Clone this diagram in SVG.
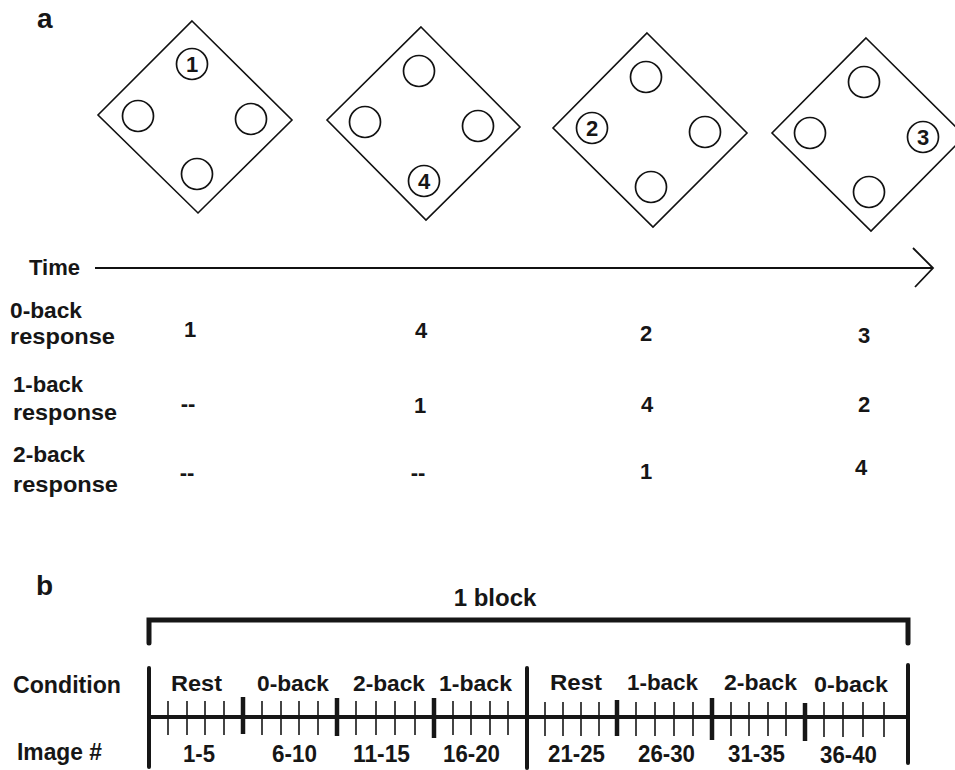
<svg xmlns="http://www.w3.org/2000/svg" width="955" height="770" viewBox="0 0 955 770">
<style>
text{font-family:"Liberation Sans",Arial,sans-serif;font-weight:bold;fill:#161616}
.lbl{font-size:22px}
.val{font-size:22px;text-anchor:middle}
.num{font-size:22px;text-anchor:middle}
.dia{fill:none;stroke:#111;stroke-width:1.6}
.cir{fill:none;stroke:#111;stroke-width:1.7}
.axis{fill:none;stroke:#111;stroke-width:1.8}
.thick{stroke:#161616;stroke-width:5;fill:none;stroke-linecap:round}
.bar{stroke:#161616;stroke-width:4;stroke-linecap:round}
.sep{stroke:#161616;stroke-width:4.5}
.tick{stroke:#161616;stroke-width:1.6}
.cond{font-size:22px}
.img{font-size:23px}
</style>
<text x="37" y="28" font-size="28">a</text>

<g id="frame1">
<polygon class="dia" points="192,21 292,120 198,213 98,115"/>
<circle class="cir" cx="192" cy="64" r="15.5"/><text class="num" x="192" y="72">1</text>
<circle class="cir" cx="138" cy="116" r="15.5"/>
<circle class="cir" cx="251" cy="119" r="15.5"/>
<circle class="cir" cx="197" cy="174" r="15.5"/>
</g>
<g id="frame2">
<polygon class="dia" points="421,27 520,127 426,220 327,120"/>
<circle class="cir" cx="419" cy="71" r="15.5"/>
<circle class="cir" cx="365" cy="122" r="15.5"/>
<circle class="cir" cx="478" cy="126" r="15.5"/>
<circle class="cir" cx="424" cy="181" r="15.5"/><text class="num" x="424" y="189">4</text>
</g>
<g id="frame3">
<polygon class="dia" points="647,33 747,133 653,227 553,128"/>
<circle class="cir" cx="646" cy="77" r="15.5"/>
<circle class="cir" cx="592" cy="128" r="15.5"/><text class="num" x="592" y="136">2</text>
<circle class="cir" cx="705" cy="132" r="15.5"/>
<circle class="cir" cx="651" cy="187" r="15.5"/>
</g>
<g id="frame4">
<polygon class="dia" points="866,38 965,136 871,231 772,133"/>
<circle class="cir" cx="864" cy="82" r="15.5"/>
<circle class="cir" cx="810" cy="133" r="15.5"/>
<circle class="cir" cx="923" cy="137" r="15.5"/><text class="num" x="923" y="145">3</text>
<circle class="cir" cx="869" cy="192" r="15.5"/>
</g>

<g id="time-axis">
<text class="lbl" x="29" y="275" textLength="51" lengthAdjust="spacingAndGlyphs">Time</text>
<line class="axis" x1="95" y1="268" x2="933" y2="268"/>
<polyline class="axis" points="913,248 933,268 915,287"/>
</g>

<g id="responses">
<text class="lbl" x="10" y="318" textLength="72" lengthAdjust="spacingAndGlyphs">0-back</text>
<text class="lbl" x="10" y="344" textLength="105" lengthAdjust="spacingAndGlyphs">response</text>
<text class="lbl" x="13" y="392" textLength="70" lengthAdjust="spacingAndGlyphs">1-back</text>
<text class="lbl" x="13" y="420" textLength="104" lengthAdjust="spacingAndGlyphs">response</text>
<text class="lbl" x="13" y="462" textLength="72" lengthAdjust="spacingAndGlyphs">2-back</text>
<text class="lbl" x="13" y="492" textLength="105" lengthAdjust="spacingAndGlyphs">response</text>

<text class="val" x="190" y="337">1</text>
<text class="val" x="421" y="338">4</text>
<text class="val" x="646" y="341">2</text>
<text class="val" x="864" y="343">3</text>

<text class="val" x="188" y="411">--</text>
<text class="val" x="420" y="413">1</text>
<text class="val" x="647" y="412">4</text>
<text class="val" x="864" y="412">2</text>

<text class="val" x="187" y="480">--</text>
<text class="val" x="418" y="480">--</text>
<text class="val" x="646" y="479">1</text>
<text class="val" x="861" y="475">4</text>
</g>

<text x="36" y="595" font-size="28">b</text>

<g id="block">
<text x="495" y="606" font-size="24" text-anchor="middle">1 block</text>
<polyline class="thick" points="149,643 149,620 908,620 908,643"/>
</g>

<g id="timeline">
<line stroke="#161616" stroke-width="4" x1="149" y1="717" x2="908" y2="717"/>
<line class="bar" x1="149" y1="668" x2="149" y2="767"/>
<line class="bar" x1="527" y1="668" x2="527" y2="768"/>
<line class="bar" x1="908" y1="665" x2="908" y2="763"/>
<line class="sep" x1="243" y1="697" x2="243" y2="734"/>
<line class="sep" x1="337" y1="698" x2="337" y2="736"/>
<line class="sep" x1="434" y1="698" x2="434" y2="738"/>
<line class="sep" x1="617" y1="700" x2="617" y2="736"/>
<line class="sep" x1="712" y1="698" x2="712" y2="740"/>
<line class="sep" x1="805" y1="703" x2="805" y2="741"/>
<g class="tick">
<line x1="168" y1="701" x2="168" y2="735"/><line x1="187" y1="701" x2="187" y2="735"/><line x1="205" y1="701" x2="205" y2="735"/><line x1="224" y1="701" x2="224" y2="735"/>
<line x1="262" y1="701" x2="262" y2="735"/><line x1="281" y1="701" x2="281" y2="735"/><line x1="299" y1="701" x2="299" y2="735"/><line x1="318" y1="701" x2="318" y2="735"/>
<line x1="356" y1="701" x2="356" y2="735"/><line x1="376" y1="701" x2="376" y2="735"/><line x1="395" y1="701" x2="395" y2="735"/><line x1="415" y1="701" x2="415" y2="735"/>
<line x1="453" y1="701" x2="453" y2="735"/><line x1="471" y1="701" x2="471" y2="735"/><line x1="490" y1="701" x2="490" y2="735"/><line x1="508" y1="701" x2="508" y2="735"/>
<line x1="545" y1="702" x2="545" y2="736"/><line x1="563" y1="702" x2="563" y2="736"/><line x1="581" y1="702" x2="581" y2="736"/><line x1="599" y1="702" x2="599" y2="736"/>
<line x1="636" y1="702" x2="636" y2="736"/><line x1="655" y1="702" x2="655" y2="736"/><line x1="674" y1="702" x2="674" y2="736"/><line x1="693" y1="702" x2="693" y2="736"/>
<line x1="731" y1="702" x2="731" y2="736"/><line x1="749" y1="702" x2="749" y2="736"/><line x1="768" y1="702" x2="768" y2="736"/><line x1="786" y1="702" x2="786" y2="736"/>
<line x1="824" y1="702" x2="824" y2="737"/><line x1="843" y1="702" x2="843" y2="737"/><line x1="863" y1="702" x2="863" y2="737"/><line x1="884" y1="702" x2="884" y2="737"/>
</g>
</g>

<g id="labels-b">
<text x="13" y="693" font-size="23" textLength="108" lengthAdjust="spacingAndGlyphs">Condition</text>
<text x="17" y="760" font-size="23" textLength="85" lengthAdjust="spacingAndGlyphs">Image #</text>

<text class="cond" x="171" y="691" textLength="51" lengthAdjust="spacingAndGlyphs">Rest</text>
<text class="cond" x="257" y="691" textLength="72" lengthAdjust="spacingAndGlyphs">0-back</text>
<text class="cond" x="353" y="691" textLength="72" lengthAdjust="spacingAndGlyphs">2-back</text>
<text class="cond" x="439" y="691" textLength="73" lengthAdjust="spacingAndGlyphs">1-back</text>
<text class="cond" x="550" y="690" textLength="52" lengthAdjust="spacingAndGlyphs">Rest</text>
<text class="cond" x="627" y="690" textLength="71" lengthAdjust="spacingAndGlyphs">1-back</text>
<text class="cond" x="724" y="690" textLength="73" lengthAdjust="spacingAndGlyphs">2-back</text>
<text class="cond" x="814" y="692" textLength="74" lengthAdjust="spacingAndGlyphs">0-back</text>

<text class="img" x="183" y="762" textLength="32" lengthAdjust="spacingAndGlyphs">1-5</text>
<text class="img" x="272" y="762" textLength="45" lengthAdjust="spacingAndGlyphs">6-10</text>
<text class="img" x="353" y="762" textLength="57" lengthAdjust="spacingAndGlyphs">11-15</text>
<text class="img" x="443" y="762" textLength="57" lengthAdjust="spacingAndGlyphs">16-20</text>
<text class="img" x="548" y="762" textLength="57" lengthAdjust="spacingAndGlyphs">21-25</text>
<text class="img" x="638" y="762" textLength="57" lengthAdjust="spacingAndGlyphs">26-30</text>
<text class="img" x="728" y="762" textLength="57" lengthAdjust="spacingAndGlyphs">31-35</text>
<text class="img" x="820" y="763" textLength="57" lengthAdjust="spacingAndGlyphs">36-40</text>
</g>
</svg>
